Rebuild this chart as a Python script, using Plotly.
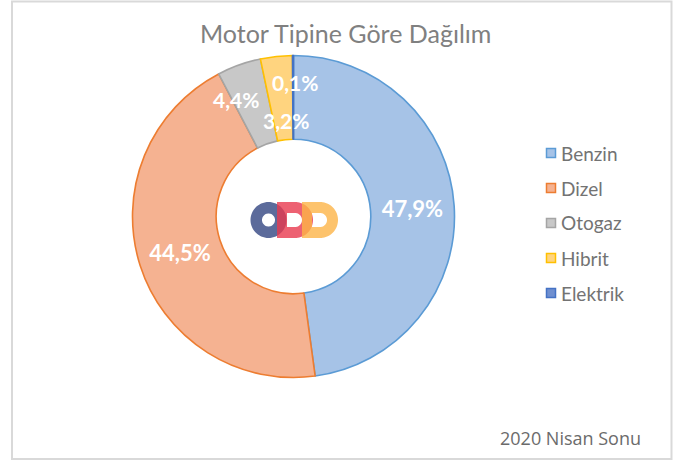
import numpy as np
import plotly.graph_objects as go

W, H = 681, 462

motor_types = ["Benzin", "Dizel", "Otogaz", "Hibrit", "Elektrik"]
shares = [47.9, 44.5, 4.4, 3.2, 0.1]
fill_colors = ["#a6c3e7", "#f5b291", "#c8c8c8", "#ffd47f", "#6f8fd0"]
line_colors = ["#5b9bd5", "#ed7d31", "#a5a5a5", "#ffc000", "#4472c4"]

title_text = "Motor Tipine Göre Dağılım"
footer_text = "2020 Nisan Sonu"

# small slices get their labels placed by hand, like the Excel original
small_label_px = {"Otogaz": (236, 99), "Hibrit": (286, 121), "Elektrik": (295, 83)}


def px(x):
    return x / W


def py(y):
    return 1 - y / H


def fmt(v):
    return f"{v:.1f}".replace(".", ",") + "%"


labels_txt = [fmt(v) for v in shares]
pie_text = [t if m not in small_label_px else "" for t, m in zip(labels_txt, motor_types)]

# donut geometry (pixels)
cx, cy, r = 293.5, 216.5, 161

fig = go.Figure()
fig.add_trace(go.Pie(
    labels=motor_types,
    values=shares,
    text=pie_text,
    textinfo="text",
    textposition="inside",
    insidetextorientation="horizontal",
    textfont=dict(family="Lato", size=22, color="white", weight="bold"),
    marker=dict(colors=fill_colors, line=dict(color=line_colors, width=1.6)),
    hole=0.48,
    sort=False,
    direction="clockwise",
    rotation=0,
    showlegend=False,
    hoverinfo="label+percent",
    domain=dict(x=[px(cx - r), px(cx + r)], y=[py(cy + r), py(cy - r)]),
))

annotations = []
for m, t in zip(motor_types, labels_txt):
    if m in small_label_px:
        lx, ly = small_label_px[m]
        annotations.append(dict(
            x=px(lx), y=py(ly), xref="paper", yref="paper", text=t, showarrow=False,
            xanchor="center", yanchor="middle",
            font=dict(family="Lato", size=21, color="white", weight="bold"),
        ))

# legend drawn by hand for the Excel-like spacing
shapes = []
for i, (m, fc, lc) in enumerate(zip(motor_types, fill_colors, line_colors)):
    ly = 153 + i * 35
    shapes.append(dict(type="rect", xref="paper", yref="paper",
                       x0=px(546.5), x1=px(555.5), y0=py(ly + 4.5), y1=py(ly - 4.5),
                       fillcolor=fc, line=dict(color=lc, width=1.5)))
    annotations.append(dict(x=px(559), y=py(ly), xref="paper", yref="paper", text=m,
                            showarrow=False, xanchor="left", yanchor="middle",
                            font=dict(family="Lato", size=19, color="#737373")))

annotations.append(dict(x=px(346), y=py(33), xref="paper", yref="paper", text=title_text,
                        showarrow=False, xanchor="center", yanchor="middle",
                        font=dict(family="Lato", size=25, color="#808080")))
annotations.append(dict(x=px(643), y=py(438), xref="paper", yref="paper", text=footer_text,
                        showarrow=False, xanchor="right", yanchor="middle",
                        font=dict(family="Open Sans", size=18, color="#6b6b6b")))

# chart border
shapes.append(dict(type="rect", xref="paper", yref="paper", x0=px(12), x1=px(671.5),
                   y0=py(459), y1=py(1.5), line=dict(color="#d9d9d9", width=2)))


# ODD logo in the hole
def poly_path(pts):
    return "M " + " L ".join(f"{px(x):.5f},{py(y):.5f}" for x, y in pts) + " Z"


def ring(xc, yc, ro, ri, n=60):
    t = np.linspace(0, 2 * np.pi, n, endpoint=False)
    outer = [(xc + ro * np.cos(a), yc + ro * np.sin(a)) for a in t]
    inner = [(xc + ri * np.cos(a), yc - ri * np.sin(a)) for a in t]
    return poly_path(outer) + " " + poly_path(inner)


def d_shape(x0, yc, ro, ri, t, n=40):
    a = np.linspace(-np.pi / 2, np.pi / 2, n)
    xo = x0 + ro
    outer = [(x0, yc - ro)] + [(xo + ro * np.cos(v), yc + ro * np.sin(v)) for v in a] + [(x0, yc + ro)]
    xi = x0 + ro
    inner = [(x0 + t, yc + ri)] + [(xi + ri * np.cos(v), yc + ri * np.sin(v)) for v in a[::-1]] + [(x0 + t, yc - ri)]
    return poly_path(outer) + " " + poly_path(inner)


logo_y = 220
shapes.append(dict(type="path", xref="paper", yref="paper", path=ring(268.5, logo_y, 18, 6.5),
                   fillcolor="#3f5189", opacity=0.85, line=dict(width=0)))
shapes.append(dict(type="path", xref="paper", yref="paper", path=d_shape(277, logo_y, 18, 7, 10),
                   fillcolor="#e8394f", opacity=0.8, line=dict(width=0)))
shapes.append(dict(type="path", xref="paper", yref="paper", path=d_shape(302, logo_y, 18, 7, 10),
                   fillcolor="#fcb447", opacity=0.8, line=dict(width=0)))

fig.update_layout(
    width=W, height=H,
    margin=dict(l=0, r=0, t=0, b=0),
    paper_bgcolor="white",
    plot_bgcolor="white",
    annotations=annotations,
    shapes=shapes,
)

# the page's default body margin would push the fixed-size figure off the window
fig.write_html("out.html", config={"displayModeBar": False},
               post_script="document.body.style.margin = '0';")
